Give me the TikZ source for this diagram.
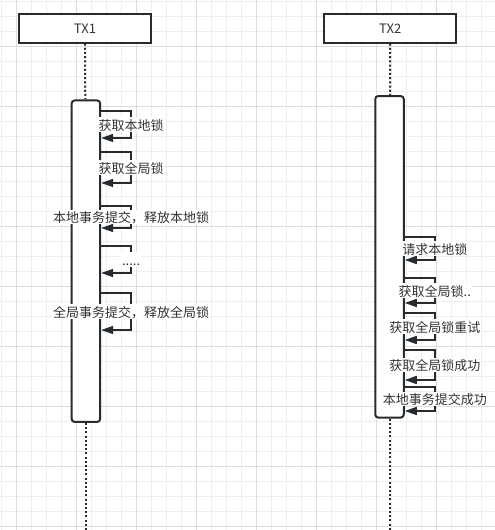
\documentclass[tikz,border=0pt]{standalone}
\usepackage{fontspec}
\setmainfont{Noto Sans CJK SC}
\usetikzlibrary{positioning,
                arrows.meta}                % arrow tips
\definecolor{ink}{HTML}{262B30}
\definecolor{txtgray}{HTML}{333333}
\definecolor{gridminor}{HTML}{EEEEEE}
\definecolor{gridmajor}{HTML}{DDDDDD}

\begin{document}
\begin{tikzpicture}[x=1pt, y=-1pt,
    every node/.style={font=\fontsize{13}{15}\selectfont, text=txtgray},
    actor/.style={draw=ink, line width=2pt, fill=white, minimum width=132pt, minimum height=28.5pt, inner sep=0pt},
    activation/.style={draw=ink, line width=2pt, fill=white, rounded corners=3pt, minimum width=28.5pt, minimum height=321.5pt, inner sep=0pt},
    lifeline/.style={draw=ink, line width=2pt, dash pattern=on 2pt off 2.2pt},
    msg/.style={draw=ink, line width=1.6pt, -{Triangle[length=12pt,width=8pt]}},
    msglabel/.style={fill=white, inner sep=1pt, text height=12pt, text depth=0.5pt}]

      \useasboundingbox (0,0) rectangle (495,530);

      % background grid
      \foreach \gx in {1,16,...,495} \draw[gridminor, line width=0.8pt] (\gx,0) -- (\gx,530);
      \foreach \gy in {1,16,...,530} \draw[gridminor, line width=0.8pt] (0,\gy) -- (495,\gy);
      \foreach \gx in {16,76,...,495} \draw[gridmajor, line width=0.8pt] (\gx,0) -- (\gx,530);
      \foreach \gy in {46,106,...,530} \draw[gridmajor, line width=0.8pt] (0,\gy) -- (495,\gy);

      \node[actor] (tx1) at (85,28.3) {TX1};
      \node[actor] (tx2) at (390.2,28.3) {TX2};

      \node[activation] (act1) at (85.9,261.2) {};
      \node[activation] (act2) at (389.5,256.8) {};

      \coordinate (end1) at (act1.south |- 0,532);
      \coordinate (end2) at (act2.south |- 0,532);

      \draw[lifeline] (tx1) -- (act1);
      \draw[lifeline] (act1) -- (end1);
      \draw[lifeline] (tx2) -- (act2);
      \draw[lifeline] (act2) -- (end2);

      \foreach \t/\b/\txt in {111/138/获取本地锁, 152/183/获取全局锁,
                              206/228/本地事务提交，释放本地锁, 246/273/{.....},
                              293/330/全局事务提交，释放全局锁}
        \draw[msg] (act1.east |- 0,\t) -- ++(30,0) |- node[msglabel, pos=0.25] {\txt} (act1.east |- 0,\b);

      \foreach \t/\b/\txt in {237/260/请求本地锁, 278/303/获取全局锁..,
                              313/340/获取全局锁重试, 350/380/获取全局锁成功,
                              387/411/本地事务提交成功}
        \draw[msg] (act2.east |- 0,\t) -- ++(30,0) |- node[msglabel, pos=0.25] {\txt} (act2.east |- 0,\b);
\end{tikzpicture}
\end{document}
